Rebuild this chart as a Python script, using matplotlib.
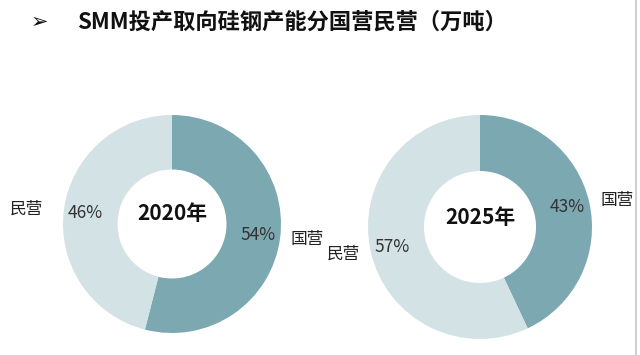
import matplotlib
matplotlib.use('Agg')
import matplotlib.pyplot as plt
from matplotlib.lines import Line2D

plt.rcParams['font.family'] = ['Noto Sans CJK SC', 'DejaVu Sans']

title = 'SMM投产取向硅钢产能分国营民营（万吨）'
labels = ['国营', '民营']
years = ['2020年', '2025年']
share_2020 = [54, 46]
share_2025 = [43, 57]

colors = ['#7ba8b1', '#d3e2e5']

W, H = 640, 355
fig = plt.figure(figsize=(6.4, 3.55), dpi=100)
ax = fig.add_axes([0, 0, 1, 1])

def py(y):
    # pixel row (from top) -> data y
    return H - y

# (center x, center y from top, radius)
layout = [(172, 224, 109), (480, 227, 112)]

for vals, year, (cx, cy, r) in zip([share_2020, share_2025], years, layout):
    wedges, texts, autotexts = ax.pie(
        vals, labels=labels, colors=colors, startangle=90, counterclock=False,
        center=(cx, py(cy)), radius=r, autopct='%d%%', pctdistance=0.8,
        labeldistance=1.1, wedgeprops=dict(width=r * 0.5, edgecolor='none'),
        textprops=dict(fontsize=12, color='#222222'))
    for t in autotexts:
        t.set_fontsize(12.5)
        t.set_color('#333333')
    # pie picks alignment from absolute x, fix it relative to the centre
    for t in texts:
        t.set_ha('left' if t.get_position()[0] > cx else 'right')
    ax.text(cx, py(cy - 10), year, ha='center', va='center',
            fontsize=15, fontweight='bold', color='#111111')
    if year == '2020年':
        # left label in the reference sits a little further out
        texts[1].set_x(43)

ax.set_xlim(0, W)
ax.set_ylim(0, H)
ax.set_aspect('equal')
ax.axis('off')

fig.text(31 / W, 1 - 22 / H, '➢', fontsize=15, ha='left', va='center',
         family=['DejaVu Sans'], color='#111111')
fig.text(77 / W, 1 - 22 / H, title, fontsize=16, fontweight='bold',
         ha='left', va='center', color='#111111')

fig.add_artist(Line2D([636 / W, 636 / W], [0, 1], color='#d0d0d0', lw=1.5))

fig.savefig('out.png', dpi=100)
